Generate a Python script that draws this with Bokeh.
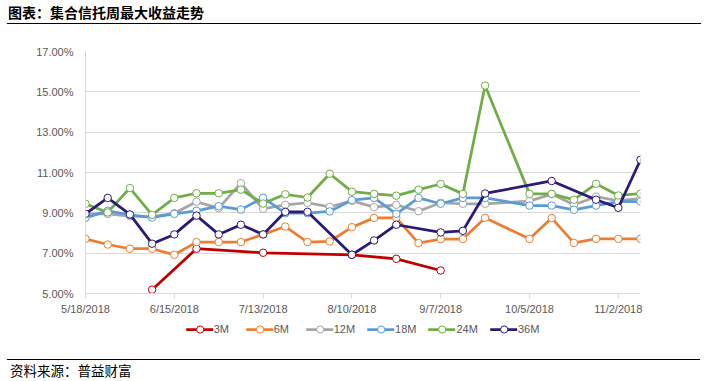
from datetime import datetime
from bokeh.plotting import figure
from bokeh.layouts import column
from bokeh.models import (Range1d, FixedTicker, PrintfTickFormatter, Legend, LegendItem, Div)
from bokeh.embed import file_html
from bokeh.resources import INLINE

title_text = "图表：集合信托周最大收益走势"
source_text = "资料来源：普益财富"

dates = ["5/18/2018", "5/25/2018", "6/1/2018", "6/8/2018", "6/15/2018", "6/22/2018",
         "6/29/2018", "7/6/2018", "7/13/2018", "7/20/2018", "7/27/2018", "8/3/2018",
         "8/10/2018", "8/17/2018", "8/24/2018", "8/31/2018", "9/7/2018", "9/14/2018",
         "9/21/2018", "9/28/2018", "10/5/2018", "10/12/2018", "10/19/2018", "10/26/2018",
         "11/2/2018", "11/9/2018"]

tick_labels = ["5/18/2018", "6/15/2018", "7/13/2018", "8/10/2018", "9/7/2018",
               "10/5/2018", "11/2/2018"]

y_ticks = [5, 7, 9, 11, 13, 15, 17]

N = None
s3m = [N, N, N, 5.19, N, 7.22, N, N, 7.02, N, N, N, 6.92, N, 6.72, N, 6.14,
       N, N, N, N, N, N, N, N, N]
s6m = [7.71, 7.43, 7.22, 7.22, 6.92, 7.55, 7.55, 7.55, 7.93, 8.32, 7.55, 7.58, 8.29,
       8.75, 8.75, 7.50, 7.70, 7.70, 8.75, N, 7.71, 8.74, 7.51, 7.71, 7.71, 7.71]
s12m = [8.95, 8.95, 8.84, 8.80, 8.98, 9.55, 9.23, 10.47, 9.20, 9.40, 9.50, 9.30, 9.60,
        9.28, 9.40, 9.08, 9.50, 9.45, 9.45, N, 9.58, 9.93, 9.40, 9.80, 9.60, 9.70]
s18m = [8.75, 9.10, 8.90, 8.77, 8.95, 9.10, 9.33, 9.16, 9.75, 8.98, 8.98, 9.07, 9.63,
        9.74, 8.95, 9.74, 9.45, 9.74, 9.74, N, 9.36, 9.36, 9.15, 9.36, 9.56, 9.56]
s24m = [9.45, 9.02, 10.23, 8.90, 9.74, 9.97, 9.97, 10.15, 9.46, 9.92, 9.76, 10.94, 10.05,
        9.94, 9.85, 10.15, 10.43, 9.94, 15.31, N, 9.94, 9.94, 9.65, 10.44, 9.86, 9.95]
s36m = [8.95, 9.74, 8.92, 7.47, 7.93, 8.86, 7.93, 8.41, 7.93, 9.05, 9.05, N, 6.92,
        7.63, 8.41, N, 8.03, 8.11, 9.96, N, N, 10.58, N, 9.65, 9.25, 11.63]

series_names = ["3M", "6M", "12M", "18M", "24M", "36M"]
series_values = [s3m, s6m, s12m, s18m, s24m, s36m]
series_colors = ["#C00000", "#ED7D31", "#A5A5A5", "#5B9BD5", "#70AD47", "#2B1A78"]

t0 = datetime.strptime(dates[0], "%m/%d/%Y")
def day_of(s):
    return (datetime.strptime(s, "%m/%d/%Y") - t0).days

xs_all = [day_of(d) for d in dates]
tick_pos = [day_of(t) for t in tick_labels]

# main chart: frame x 85..640, y 51..293 on the page
p = figure(width=707, height=294, output_backend="svg", toolbar_location=None,
           x_range=Range1d(0, xs_all[-1]), y_range=Range1d(5, 17),
           min_border_left=85, min_border_right=67, min_border_top=26, min_border_bottom=26)
p.outline_line_color = None
p.background_fill_color = "white"
p.border_fill_color = "white"

font = "Liberation Sans"
p.xaxis.ticker = FixedTicker(ticks=tick_pos)
p.xaxis.major_label_overrides = {tp: lab for tp, lab in zip(tick_pos, tick_labels)}
p.xaxis.axis_line_color = "#D9D9D9"
p.xaxis.major_tick_line_color = "#D9D9D9"
p.xaxis.major_tick_out = 5
p.xaxis.major_tick_in = 0
p.xaxis.minor_tick_line_color = None
p.xaxis.major_label_text_color = "#595959"
p.xaxis.major_label_text_font = font
p.xaxis.major_label_text_font_size = "11px"
p.xaxis.major_label_standoff = 4

p.yaxis.ticker = FixedTicker(ticks=y_ticks)
p.yaxis.formatter = PrintfTickFormatter(format="%.2f%%")
p.yaxis.axis_line_color = "#D9D9D9"
p.yaxis.major_tick_line_color = None
p.yaxis.minor_tick_line_color = None
p.yaxis.major_tick_out = 0
p.yaxis.major_tick_in = 0
p.yaxis.major_label_text_color = "#595959"
p.yaxis.major_label_text_font = font
p.yaxis.major_label_text_font_size = "11px"
p.yaxis.major_label_standoff = 12

p.xgrid.grid_line_color = None
p.ygrid.grid_line_color = "#D9D9D9"

for name, vals, col in zip(series_names, series_values, series_colors):
    px = [x for x, v in zip(xs_all, vals) if v is not None]
    py = [v for v in vals if v is not None]
    p.line(px, py, line_color=col, line_width=2.75, line_join="round", line_cap="round")
    p.scatter(px, py, marker="circle", size=7.5, fill_color="white",
              line_color=col, line_width=1)

# legend strip (separate small figure, its glyphs lie outside its view)
lg = figure(width=707, height=40, output_backend="svg", toolbar_location=None,
            x_range=Range1d(0, 1), y_range=Range1d(0, 1),
            x_axis_type=None, y_axis_type=None,
            min_border_left=4, min_border_right=0, min_border_top=0, min_border_bottom=0)
lg.outline_line_color = None
lg.xgrid.visible = False
lg.ygrid.visible = False
items = []
for name, col in zip(series_names, series_colors):
    ln = lg.line([-5, -4], [-5, -4], line_color=col, line_width=2.75, line_cap="round")
    sc = lg.scatter([-5], [-5], marker="circle", size=7.5, fill_color="white",
                    line_color=col, line_width=1)
    items.append(LegendItem(label=name, renderers=[ln, sc]))

legend = Legend(items=items, orientation="horizontal", location="top_center",
                label_text_font_size="11px", label_text_color="#595959",
                label_text_font=font, glyph_width=27, glyph_height=18, label_height=18,
                label_standoff=1, spacing=12, padding=0, margin=1,
                border_line_color=None, background_fill_alpha=0)
lg.add_layout(legend, "center")

title_html = ('<div style="font-family:\'Noto Sans CJK SC\';font-weight:bold;font-size:14px;'
              'line-height:17px;color:#000;margin-left:7px;width:693px;height:19px;'
              'padding:4px 0 0 1px;box-sizing:content-box;border-bottom:1.5px solid #000;'
              'white-space:nowrap">' + title_text + '</div>')
footer_html = ('<div style="font-family:\'Noto Sans CJK SC\';font-size:13.5px;'
               'line-height:17px;color:#000;margin-left:7px;width:693px;'
               'padding:2px 0 0 3px;border-top:1.5px solid #000;white-space:nowrap">'
               + source_text + '</div>')

title_div = Div(text=title_html, width=707, height=25, margin=0)
footer_div = Div(text=footer_html, width=707, height=22, margin=0)

layout = column(title_div, p, lg, footer_div, spacing=0)
open("out.html", "w").write(file_html(layout, INLINE))
